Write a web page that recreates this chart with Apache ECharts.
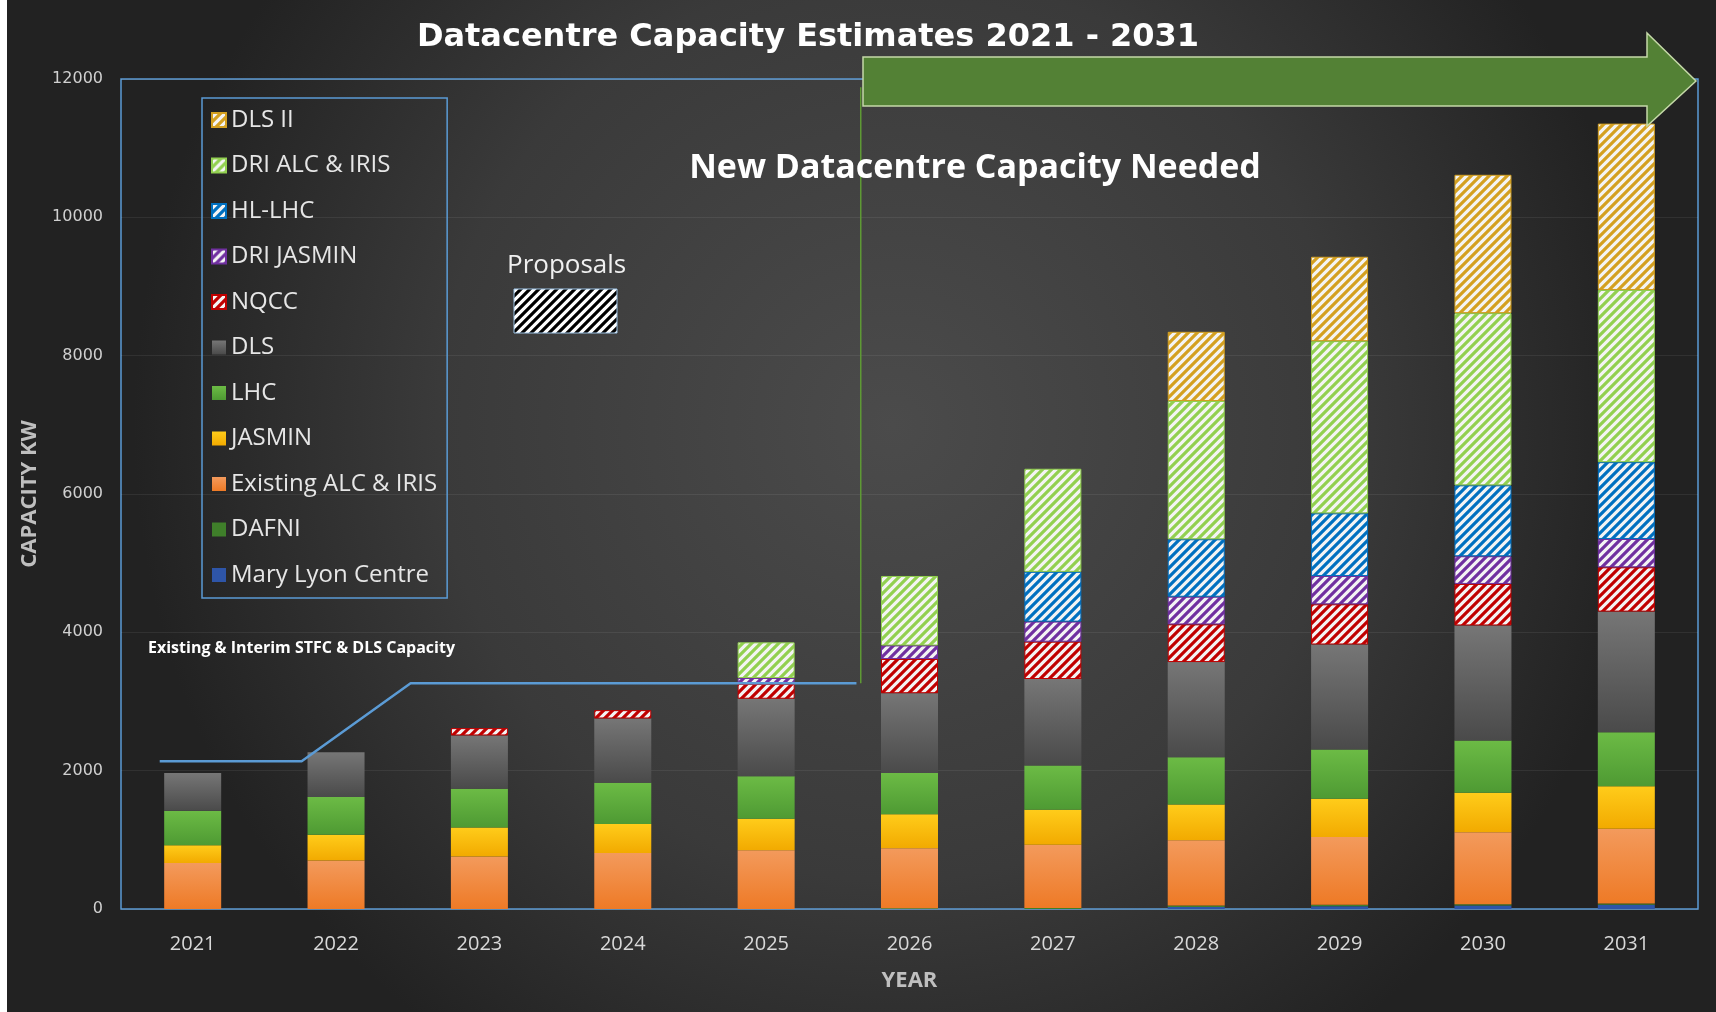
<!DOCTYPE html>
<html>
<head>
<meta charset="utf-8">
<script src="https://cdn.jsdelivr.net/npm/echarts@6/dist/echarts.min.js"></script>
<style>
html,body{margin:0;padding:0;background:#2a2a2a;}
#chart{width:1716px;height:1012px;}
</style>
</head>
<body>
<div id="chart"></div>
<script>
// ---- data ----
const years = ['2021','2022','2023','2024','2025','2026','2027','2028','2029','2030','2031'];
const maryLyon   = [0, 0, 0, 0, 0, 0, 0, 30, 40, 50, 60];
const dafni      = [0, 0, 0, 0, 0, 10, 15, 20, 20, 20, 20];
const existing   = [665, 700, 760, 810, 850, 870, 915, 945, 980, 1040, 1080];
const jasmin     = [255, 375, 420, 420, 455, 490, 505, 515, 555, 570, 615];
const lhc        = [500, 545, 560, 595, 615, 595, 640, 685, 710, 755, 780];
const dls        = [545, 645, 770, 930, 1120, 1155, 1250, 1375, 1520, 1665, 1745];
const nqcc       = [0, 0, 105, 120, 215, 495, 540, 545, 580, 600, 640];
const driJasmin  = [0, 0, 0, 0, 85, 195, 290, 400, 410, 400, 410];
const hlLhc      = [0, 0, 0, 0, 0, 0, 720, 830, 905, 1025, 1110];
const driAlc     = [0, 0, 0, 0, 515, 1005, 1490, 2000, 2490, 2490, 2490];
const dls2       = [0, 0, 0, 0, 0, 0, 0, 1000, 1220, 2000, 2405];
// existing & interim capacity line (x in category-index units)
const capLineX = [-0.23, 0.76, 1.52, 4.63];
const capLineY = [2135, 2135, 3265, 3265];
// divider between existing and new capacity
const dividerX = [4.66, 4.66];
const dividerY = [11880, 3265];
const yMin = 0, yMax = 12000, yStep = 2000;

// ---- helpers ----
function hatch(color, bg) {
  const s = 9;
  const c = document.createElement('canvas');
  c.width = s; c.height = s;
  const ctx = c.getContext('2d');
  ctx.fillStyle = bg; ctx.fillRect(0, 0, s, s);
  ctx.strokeStyle = color; ctx.lineWidth = 3.2;
  ctx.beginPath();
  [-s, 0, s].forEach(k => { ctx.moveTo(k - 2, s + 2); ctx.lineTo(k + s + 2, -2); });
  ctx.stroke();
  return { image: c, repeat: 'repeat' };
}
function grad(top, bottom) {
  return { type: 'linear', x: 0, y: 0, x2: 0, y2: 1, colorStops: [{offset: 0, color: top}, {offset: 1, color: bottom}] };
}
const nz = arr => arr.map(v => v === 0 ? null : v);

function solid(name, data, color) {
  return { name, type: 'bar', stack: 'total', barWidth: 57, data: nz(data),
    itemStyle: { color }, emphasis: { disabled: true } };
}
function hatched(name, data, color) {
  return { name, type: 'bar', stack: 'total', barWidth: 57, data: nz(data),
    itemStyle: { color: hatch(color, '#f4f4f4'), borderColor: color, borderWidth: 1 }, emphasis: { disabled: true } };
}

const chart = echarts.init(document.getElementById('chart'), null, { renderer: 'canvas' });

const option = {
  animation: false,
  backgroundColor: { type: 'radial', x: 0.52, y: 0.42, r: 0.75,
    colorStops: [{offset: 0, color: '#4b4b4b'}, {offset: 0.6, color: '#3a3a3a'}, {offset: 1, color: '#222222'}] },
  textStyle: { fontFamily: 'Open Sans' },
  grid: { left: 121, right: 18, top: 79, bottom: 103, show: true, borderColor: '#5b9bd5', borderWidth: 1.5, backgroundColor: 'transparent' },
  legend: {
    orient: 'vertical', left: 202, top: 98, icon: 'rect', itemWidth: 14, itemHeight: 14, itemGap: 21.5,
    padding: [10, 10, 11, 9], borderColor: '#5b9bd5', borderWidth: 1.5, selectedMode: false,
    textStyle: { color: '#e6e6e6', fontSize: 24, fontFamily: 'Open Sans' },
    data: ['DLS II', 'DRI ALC & IRIS', 'HL-LHC', 'DRI JASMIN', 'NQCC', 'DLS', 'LHC', 'JASMIN', 'Existing ALC & IRIS', 'DAFNI', 'Mary Lyon Centre']
  },
  xAxis: [
    { type: 'category', data: years, gridIndex: 0,
      axisLine: { show: false }, axisTick: { show: false },
      axisLabel: { color: '#d9d9d9', fontSize: 20, margin: 25 },
      name: 'YEAR', nameLocation: 'middle', nameGap: 61,
      nameTextStyle: { color: '#bfbfbf', fontSize: 22, fontWeight: 'bold' } },
    { type: 'value', min: -0.5, max: 10.5, show: false, gridIndex: 0 }
  ],
  yAxis: {
    type: 'value', min: yMin, max: yMax, interval: yStep,
    axisLine: { show: false }, axisTick: { show: false },
    axisLabel: { color: '#d0d0d0', fontSize: 16, margin: 18, fontFamily: 'DejaVu Sans', formatter: v => String(v) },
    splitLine: { lineStyle: { color: 'rgba(255,255,255,0.07)', width: 1 } },
    name: 'CAPACITY KW', nameLocation: 'middle', nameGap: 78,
    nameTextStyle: { color: '#bfbfbf', fontSize: 22, fontWeight: 'bold' }
  },
  series: [
    solid('Mary Lyon Centre', maryLyon, '#2e55a8'),
    solid('DAFNI', dafni, '#3f7f2a'),
    solid('Existing ALC & IRIS', existing, grad('#f39a5c', '#ee7a26')),
    solid('JASMIN', jasmin, grad('#ffcc1a', '#f2aa00')),
    solid('LHC', lhc, grad('#6cbb45', '#4e9a33')),
    solid('DLS', dls, grad('#767676', '#4a4a4a')),
    hatched('NQCC', nqcc, '#c00000'),
    hatched('DRI JASMIN', driJasmin, '#7030a0'),
    hatched('HL-LHC', hlLhc, '#0070c0'),
    hatched('DRI ALC & IRIS', driAlc, '#92d050'),
    hatched('DLS II', dls2, '#d4a020'),
    { name: 'capacity', type: 'line', xAxisIndex: 1, symbol: 'none', z: 5,
      data: capLineX.map((x, i) => [x, capLineY[i]]),
      lineStyle: { color: '#5b9bd5', width: 2.5 } },
    { name: 'divider', type: 'line', xAxisIndex: 1, symbol: 'none', z: 4,
      data: dividerX.map((x, i) => [x, dividerY[i]]),
      lineStyle: { color: '#5f9a35', width: 1.5 } }
  ],
  graphic: [
    { type: 'rect', z: 200, shape: { x: 0, y: 0, width: 7, height: 1012 }, style: { fill: '#ffffff' } },
    { type: 'polygon', z: 150,
      shape: { points: [[863, 57], [1647, 57], [1647, 33], [1696, 81], [1647, 126], [1647, 106], [863, 106]] },
      style: { fill: '#538135', stroke: '#c5d9a8', lineWidth: 1.5 } },
    { type: 'text', z: 150, style: { text: 'Datacentre Capacity Estimates 2021 - 2031', x: 808, y: 38,
      fill: '#ffffff', font: 'bold 32px "DejaVu Sans"', textAlign: 'center', textVerticalAlign: 'middle' } },
    { type: 'text', z: 150, style: { text: 'New Datacentre Capacity Needed', x: 975, y: 168,
      fill: '#ffffff', font: 'bold 34px "Open Sans"', textAlign: 'center', textVerticalAlign: 'middle' } },
    { type: 'text', z: 150, style: { text: 'Proposals', x: 507, y: 266,
      fill: '#f0f0f0', font: '26px "Open Sans"', textAlign: 'left', textVerticalAlign: 'middle' } },
    { type: 'rect', z: 150, shape: { x: 514, y: 289, width: 103, height: 44 },
      style: { fill: hatch('#000000', '#ffffff'), stroke: '#9ec5e8', lineWidth: 1 } },
    { type: 'text', z: 150, style: { text: 'Existing & Interim STFC & DLS Capacity', x: 148, y: 648,
      fill: '#ffffff', font: 'bold 16px "Open Sans"', textAlign: 'left', textVerticalAlign: 'middle' } }
  ]
};
chart.setOption(option);
</script>
</body>
</html>
